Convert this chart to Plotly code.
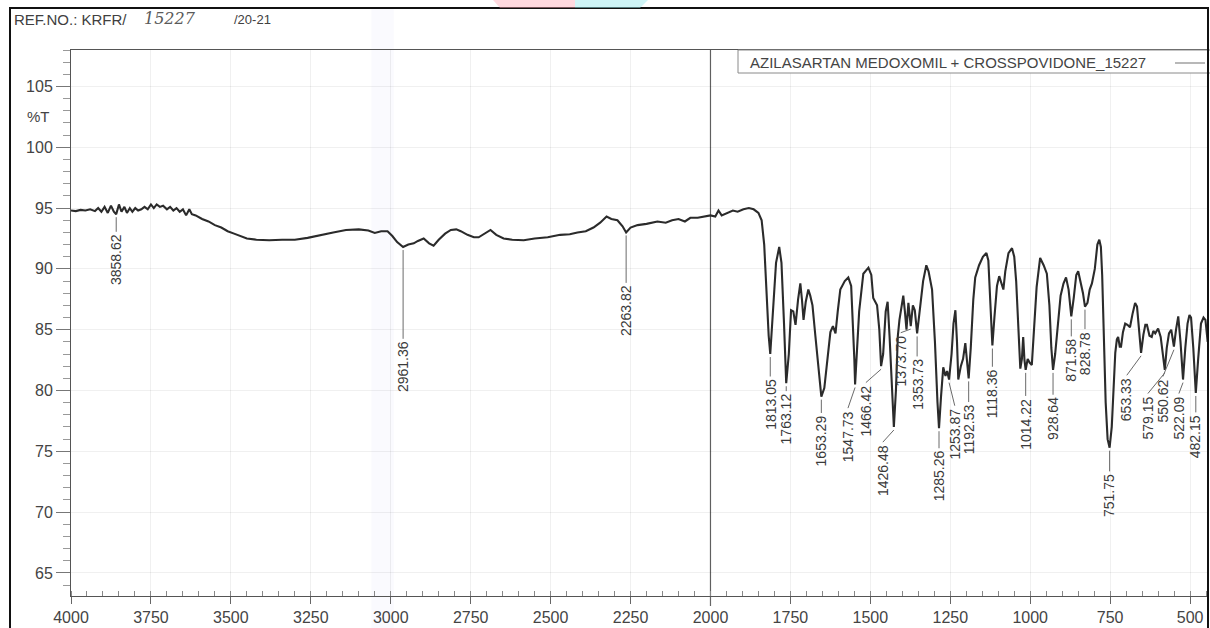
import plotly.graph_objects as go

# ---------------- spectrum data (wavenumber cm-1, %T) ----------------
wavenumber = [
    4000, 3985, 3970, 3955, 3940, 3925, 3915, 3905, 3895, 3885, 3875, 3866,
    3858.62, 3850, 3842, 3833, 3825, 3816, 3808, 3799, 3790, 3780, 3770, 3760,
    3750, 3741, 3732, 3722, 3712, 3700, 3690, 3680, 3670, 3660, 3650, 3640,
    3630, 3622, 3610, 3590, 3570, 3550, 3530, 3510, 3490, 3470, 3450, 3420,
    3380, 3340, 3300, 3260, 3220, 3180, 3140, 3100, 3070, 3050, 3030, 3010,
    2995, 2980, 2961.36, 2945, 2928, 2915, 2897, 2880, 2866, 2850, 2830, 2812,
    2795, 2781, 2760, 2740, 2725, 2705, 2688, 2670, 2647, 2620, 2584, 2550,
    2509, 2470, 2440, 2416, 2390, 2366, 2345, 2325, 2310, 2291, 2275, 2263.82,
    2250, 2228, 2200, 2166, 2140, 2120, 2100, 2080, 2063, 2040, 2020, 2000,
    1985, 1975, 1965, 1950, 1930, 1915, 1897, 1880, 1865, 1850, 1840, 1832,
    1825, 1818, 1813.05, 1805, 1795, 1785, 1778, 1770, 1763.12, 1755, 1748, 1741,
    1734, 1726, 1719, 1714, 1709, 1702, 1694, 1688, 1681, 1672, 1662, 1653.29,
    1644, 1635, 1625, 1617, 1609, 1602, 1594, 1580, 1569, 1560, 1555, 1550,
    1547.73, 1542, 1535, 1522, 1506, 1497, 1491, 1479, 1472, 1466.42, 1460, 1452,
    1446, 1440, 1432, 1426.48, 1420, 1414, 1409, 1403, 1397, 1392, 1387, 1381,
    1373.70, 1367, 1361, 1353.73, 1345, 1335, 1325, 1318, 1307, 1298, 1290, 1285.26,
    1279, 1272, 1265, 1260, 1253.87, 1246, 1240, 1234, 1229, 1225, 1217, 1210,
    1203, 1197, 1192.53, 1186, 1178, 1172, 1160, 1148, 1137, 1131, 1126, 1121,
    1118.36, 1112, 1104, 1097, 1090, 1084, 1078, 1068, 1057, 1050, 1044, 1038,
    1031, 1026, 1022, 1018, 1014.22, 1008, 1002, 995, 988, 980, 969, 958,
    948, 940, 934, 928.64, 922, 914, 905, 896, 888, 880, 871.58, 864,
    856, 850, 843, 835, 828.78, 821, 814, 807, 798, 790, 784, 779,
    775, 770, 764, 758, 751.75, 745, 740, 734, 729, 725, 720, 716,
    710, 703, 696, 688, 680, 672, 666, 661, 653.33, 646, 640, 635,
    627, 620, 615, 609, 600, 592, 585, 579.15, 573, 566, 559, 553,
    550.62, 544, 537, 530, 522.09, 515, 508, 502, 497, 490, 482.15, 475,
    466, 458, 452, 445,
]
transmittance = [
    94.8, 94.75, 94.85, 94.8, 94.9, 94.75, 95.0, 94.7, 95.1, 94.6, 95.2, 94.7,
    94.5, 95.3, 94.7, 95.1, 94.6, 95.0, 94.7, 95.0, 94.8, 94.9, 95.1, 94.9,
    95.3, 95.0, 95.3, 95.1, 95.2, 94.9, 95.1, 94.8, 95.0, 94.7, 94.9, 94.4,
    94.9, 94.5, 94.4, 94.1, 93.9, 93.6, 93.4, 93.1, 92.9, 92.7, 92.5, 92.4,
    92.35, 92.4, 92.4, 92.55, 92.8, 93.0, 93.2, 93.25, 93.15, 92.95, 93.1, 93.1,
    92.7, 92.2, 91.8, 92.0, 92.1, 92.3, 92.5, 92.1, 91.9, 92.4, 92.9, 93.2,
    93.25, 93.1, 92.8, 92.6, 92.6, 92.9, 93.2, 92.8, 92.5, 92.4, 92.35, 92.5,
    92.6, 92.8, 92.85, 93.0, 93.1, 93.4, 93.8, 94.3, 94.1, 94.0, 93.5, 93.0,
    93.4, 93.6, 93.7, 93.9, 93.8, 94.0, 94.1, 93.9, 94.2, 94.2, 94.3, 94.4,
    94.3, 94.8, 94.4, 94.6, 94.8, 94.7, 94.9, 95.0, 94.9, 94.6, 94.0, 92.0,
    88.0, 84.5, 83.0, 86.0, 90.5, 91.8, 90.5, 85.5, 80.6, 83.0, 86.6, 86.5,
    85.4, 87.5, 88.8, 87.5, 85.8, 87.3, 88.3, 87.8, 87.0, 84.5, 81.5, 79.5,
    80.2, 82.5, 84.8, 85.3, 84.7, 86.5, 88.3, 89.0, 89.3, 88.6, 86.0, 82.5,
    80.5, 83.0, 86.5, 89.6, 90.1, 89.5, 87.6, 87.0, 85.0, 82.0, 83.0, 86.5,
    87.3, 84.5, 79.5, 77.0, 80.0, 84.5, 85.8, 87.0, 87.8, 86.5, 85.0, 87.2,
    85.3, 87.0, 86.6, 84.7, 86.5, 89.0, 90.3, 89.8, 88.3, 84.0, 79.0, 76.9,
    79.5, 81.9, 81.2, 81.6, 80.9, 83.0, 85.5, 86.6, 84.0, 80.9, 82.0, 82.6,
    83.9, 82.5, 81.0, 83.5, 87.5, 89.3, 90.3, 91.0, 91.3, 90.7, 88.0, 85.0,
    83.7, 86.0, 88.6, 89.4, 88.8, 88.3, 89.8, 91.3, 91.7, 91.0, 89.0, 85.0,
    81.8, 82.6, 84.4, 82.5, 81.7, 82.6, 82.3, 82.1, 85.0, 88.5, 90.9, 90.3,
    89.6, 87.0, 83.5, 81.7, 83.0, 85.5, 87.8, 88.8, 89.3, 88.3, 86.1, 87.6,
    89.5, 89.8, 89.0, 88.0, 86.9, 87.2, 88.3, 88.8, 90.0, 92.0, 92.4, 91.8,
    89.5, 84.0, 79.0, 76.0, 75.3, 77.0, 80.5, 83.1, 84.2, 84.4, 83.6, 83.6,
    84.8, 85.5, 85.4, 85.2, 86.3, 87.2, 86.9, 85.5, 83.1, 84.6, 85.4, 85.4,
    84.5, 84.4, 84.9, 84.7, 85.1, 84.4, 83.0, 81.7, 83.5, 84.7, 85.0, 83.9,
    83.6, 85.0, 86.1, 84.0, 80.9, 83.5, 85.5, 86.2, 86.0, 83.5, 79.8, 82.5,
    85.5, 86.0, 85.8, 84.0,
]

# labelled bands
peak_labels = [
    "3858.62", "2961.36", "2263.82", "1813.05", "1763.12", "1653.29",
    "1547.73", "1466.42", "1426.48", "1373.70", "1353.73", "1285.26",
    "1253.87", "1192.53", "1118.36", "1014.22", "928.64", "871.58",
    "828.78", "751.75", "653.33", "579.15", "550.62", "522.09", "482.15",
]

# where each label text sits (wavenumber of text centre, %T of text top)
label_pos = [
    (3858.62, 93.0), (2961.36, 84.2), (2263.82, 88.8), (1813.05, 81.1),
    (1763.12, 79.9), (1653.29, 78.1), (1570, 78.5), (1514, 80.6),
    (1461, 75.7), (1405, 84.7), (1353.73, 82.75), (1285.26, 75.2),
    (1236, 78.7), (1192.53, 79.0), (1118.36, 81.9), (1014.22, 79.5),
    (928.64, 79.6), (871.58, 84.4), (828.78, 85.0), (751.75, 73.3),
    (698, 81.2), (632, 79.7), (585, 81.1), (535, 79.7), (482.15, 78.15),
]

y_ticks = [65, 70, 75, 80, 85, 90, 95, 100, 105]
x_ticks = [4000, 3750, 3500, 3250, 3000, 2750, 2500, 2250, 2000,
           1750, 1500, 1250, 1000, 750, 500]

sample_name = "AZILASARTAN MEDOXOMIL + CROSSPOVIDONE_15227"

# ---------------- page geometry ----------------
W, H = 1210, 628
ML, MR, MT, MB = 71, 2, 50, 32
PW, PH = W - ML - MR, H - MT - MB


def px(x):
    return (x - ML) / PW


def py(y):
    return (H - MB - y) / PH


INK = "#2b2b2b"
TXT = "#3a3a3a"
FONT = "Liberation Sans, Arial, sans-serif"

fig = go.Figure()
fig.add_trace(go.Scatter(
    x=wavenumber, y=transmittance, mode="lines",
    line=dict(color=INK, width=2.1), hoverinfo="skip", showlegend=False,
))

peak_y = dict(zip(wavenumber, transmittance))
shapes = []
annotations = []

# band labels with leader lines
for text, (lx, ly) in zip(peak_labels, label_pos):
    wx = float(text)
    shapes.append(dict(type="line", xref="x", yref="y",
                       x0=wx, y0=peak_y[wx] - 0.25, x1=lx, y1=ly + 0.05,
                       line=dict(color="#6a6a6a", width=1)))
    annotations.append(dict(x=lx, y=ly, xref="x", yref="y", text=text,
                            textangle=-90, showarrow=False,
                            xanchor="center", yanchor="top",
                            font=dict(family=FONT, size=14, color=TXT)))

# marker line at 2000 cm-1
shapes.append(dict(type="line", xref="x", yref="paper", x0=2000, x1=2000,
                   y0=py(606), y1=1, line=dict(color="#666666", width=1.2),
                   layer="below"))

# faint scanner band
shapes.append(dict(type="rect", xref="x", yref="paper", x0=3060, x1=2990,
                   y0=py(628), y1=py(8), fillcolor="rgba(190,185,235,0.07)",
                   line=dict(width=0), layer="below"))

# sample name box with line sample
shapes.append(dict(type="rect", xref="paper", yref="paper",
                   x0=px(738), x1=px(1230), y0=py(73), y1=py(50),
                   fillcolor="white", line=dict(color="#8a8a8a", width=1)))
shapes.append(dict(type="line", xref="paper", yref="paper",
                   x0=px(1175), x1=px(1205), y0=py(63), y1=py(63),
                   line=dict(color="#888888", width=1.2)))
annotations.append(dict(x=px(748), y=py(62), xref="paper", yref="paper",
                        text=sample_name, showarrow=False,
                        xanchor="left", yanchor="middle",
                        font=dict(family=FONT, size=15, color="#444444")))

# %T unit label on the y axis
annotations.append(dict(x=px(52), y=py(116), xref="paper", yref="paper",
                        text="%T", showarrow=False, xanchor="right",
                        yanchor="middle",
                        font=dict(family=FONT, size=15, color="#444444")))

# document header
annotations.append(dict(x=px(12), y=py(20), xref="paper", yref="paper",
                        text="REF.NO.: KRFR/", showarrow=False,
                        xanchor="left", yanchor="middle",
                        font=dict(family=FONT, size=15, color="#404040")))
annotations.append(dict(x=px(142), y=py(19), xref="paper", yref="paper",
                        text="<i>15227</i>", showarrow=False,
                        xanchor="left", yanchor="middle",
                        font=dict(family="DejaVu Serif, serif", size=16,
                                  color="#5a5a5a")))
annotations.append(dict(x=px(232), y=py(20), xref="paper", yref="paper",
                        text="/20-21", showarrow=False,
                        xanchor="left", yanchor="middle",
                        font=dict(family=FONT, size=13, color="#404040")))

# outer document frame
shapes.append(dict(type="rect", xref="paper", yref="paper",
                   x0=px(10), x1=px(1208), y0=py(700), y1=py(8),
                   line=dict(color="#111111", width=2)))

# faint watermark traces at the page top
shapes.append(dict(type="path", xref="paper", yref="paper",
                   path=f"M {px(493)},{py(0)} L {px(575)},{py(0)} "
                        f"L {px(575)},{py(8)} L {px(500)},{py(8)} Z",
                   fillcolor="rgba(255,170,185,0.45)", line=dict(width=0)))
shapes.append(dict(type="path", xref="paper", yref="paper",
                   path=f"M {px(575)},{py(0)} L {px(648)},{py(0)} "
                        f"L {px(640)},{py(8)} L {px(575)},{py(8)} Z",
                   fillcolor="rgba(160,235,240,0.5)", line=dict(width=0)))

fig.update_layout(
    width=W, height=H,
    margin=dict(l=ML, r=MR, t=MT, b=MB),
    paper_bgcolor="white", plot_bgcolor="white",
    showlegend=False,
    shapes=shapes, annotations=annotations,
    xaxis=dict(
        range=[4000, 444], tickvals=x_ticks,
        ticktext=[str(v) for v in x_ticks],
        showline=True, linecolor="#555555", linewidth=1, mirror=True,
        ticks="outside", ticklen=7, tickcolor="#666666",
        minor=dict(dtick=50, tick0=0, ticks="inside", ticklen=5,
                   tickcolor="#888888", showgrid=False),
        showgrid=True, gridcolor="rgba(0,0,0,0.06)", zeroline=False,
        tickfont=dict(family=FONT, size=16, color="#444444"),
    ),
    yaxis=dict(
        range=[63.1, 108.0], tickvals=y_ticks,
        showline=True, linecolor="#555555", linewidth=1,
        ticks="outside", ticklen=14, tickcolor="#777777",
        minor=dict(dtick=1, tick0=0, ticks="outside", ticklen=7,
                   tickcolor="#999999", showgrid=False),
        showgrid=True, gridcolor="rgba(0,0,0,0.06)", zeroline=False,
        tickfont=dict(family=FONT, size=16, color="#444444"),
    ),
)

fig.write_html("out.html")
